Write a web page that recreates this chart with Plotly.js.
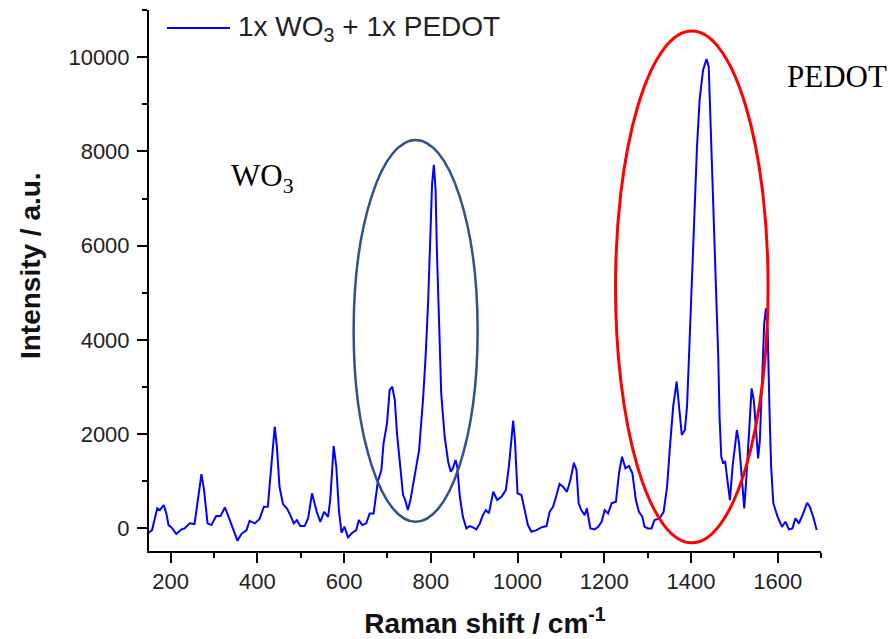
<!DOCTYPE html>
<html>
<head>
<meta charset="utf-8">
<script src="https://cdn.plot.ly/plotly-3.0.1.min.js"></script>
<style>html,body{margin:0;padding:0;background:#fff;}#chart{width:894px;height:639px;}</style>
</head>
<body>
<div id="chart"></div>
<script>
// Raman shift (cm^-1)
const ramanShift = [149,157,169,175,184,190,195,202,213,225,232,244,255,263,271,277,285,294,305,315,325,332,344,354,363,375,382,394,405,415,424,432,440,445,451,459,468,476,484,491,499,509,517,526,532,537,545,554,563,568,576,582,588,594,601,609,619,628,634,642,651,659,668,672,678,686,691,699,705,711,717,722,730,736,741,747,753,763,773,782,788,794,799,803,807,811,814,819,824,832,840,846,851,857,861,867,874,882,890,897,905,913,920,927,934,944,953,963,973,980,986,990,994,1000,1009,1017,1024,1032,1044,1055,1067,1074,1082,1090,1097,1105,1114,1122,1130,1136,1141,1147,1155,1160,1168,1178,1186,1194,1201,1209,1217,1227,1234,1241,1249,1257,1265,1273,1280,1288,1293,1301,1309,1316,1328,1337,1345,1351,1359,1367,1373,1379,1386,1391,1397,1403,1409,1414,1420,1428,1436,1441,1446,1452,1459,1463,1466,1470,1474,1479,1485,1490,1496,1502,1506,1511,1518,1523,1528,1535,1540,1545,1550,1555,1559,1564,1569,1573,1577,1581,1585,1590,1600,1610,1618,1626,1634,1641,1649,1659,1668,1674,1682,1690];
// Intensity (a.u.)
const intensity = [-93,-36,425,389,495,318,70,21,-121,-21,0,106,91,671,1153,813,106,70,261,261,446,282,0,-260,-121,-36,161,106,200,459,459,1238,2157,1733,883,516,425,282,106,176,49,49,212,743,531,352,140,352,246,601,1747,1308,389,-93,34,-191,-93,-36,176,70,106,318,318,620,1000,1238,1805,2229,2936,3006,2724,2017,1238,707,601,389,601,1096,1662,2724,3643,4847,6263,7325,7713,7183,5910,4140,2866,1945,1414,1202,1274,1450,1308,671,246,0,49,21,-21,100,282,389,318,777,601,671,813,1308,2017,2285,1875,743,707,389,70,-72,-36,21,49,352,459,707,941,883,777,1025,1393,1238,531,389,282,425,0,-21,34,140,389,318,531,565,1168,1520,1274,1323,1168,601,352,246,34,0,0,176,212,352,883,1662,2582,3113,2582,1981,2087,2582,3998,5414,6828,8102,9093,9730,9958,9800,8400,6800,5060,3643,2370,1520,1393,1414,955,601,1308,1839,2087,1805,1025,425,1096,2370,2972,2724,2087,1486,1875,3291,4352,4671,4210,2582,1308,531,246,34,140,-21,0,212,106,318,544,459,246,-36];

const seriesName = "1x WO<sub>3</sub> + 1x PEDOT";
const xTitle = "<b>Raman shift / cm<sup>-1</sup></b>";
const yTitle = "<b>Intensity / a.u.</b>";
const labelWO3 = "WO<sub>3</sub>";
const labelPEDOT = "PEDOT";

const tickFont = {family: "Liberation Sans, Arial, sans-serif", size: 22, color: "#222"};
const titleFont = {family: "Liberation Sans, Arial, sans-serif", size: 28, color: "#111"};

const trace = {
  x: ramanShift, y: intensity, type: "scatter", mode: "lines",
  name: seriesName, line: {color: "#0000ff", width: 2}, showlegend: false
};

const layout = {
  width: 894, height: 639,
  margin: {l: 149, r: 73, t: 10, b: 88},
  paper_bgcolor: "#fff", plot_bgcolor: "#fff",
  showlegend: false,
  xaxis: {
    range: [150, 1700], showgrid: false, zeroline: false,
    showline: true, linecolor: "#000", linewidth: 2,
    ticks: "outside", ticklen: 10, tickwidth: 2, tickcolor: "#000",
    tick0: 0, dtick: 200, tickfont: tickFont,
    minor: {dtick: 100, tick0: 0, ticks: "outside", ticklen: 5, tickwidth: 2, tickcolor: "#000", showgrid: false},
    title: {text: xTitle, font: titleFont, standoff: 21}
  },
  yaxis: {
    range: [-480, 11000], showgrid: false, zeroline: false,
    showline: true, linecolor: "#000", linewidth: 2,
    ticks: "outside", ticklen: 10, tickwidth: 2, tickcolor: "#000",
    tick0: 0, dtick: 2000, tickformat: "d", ticklabelstandoff: 3, tickfont: tickFont,
    minor: {dtick: 1000, tick0: 0, ticks: "outside", ticklen: 5, tickwidth: 2, tickcolor: "#000", showgrid: false}
  },
  shapes: [
    {type: "circle", xref: "x", yref: "y", x0: 622, x1: 908, y0: 140, y1: 8244,
     line: {color: "#2F528F", width: 2.5}, fillcolor: "rgba(0,0,0,0)"},
    {type: "circle", xref: "x", yref: "y", x0: 1226, x1: 1578, y0: -306, y1: 10552,
     line: {color: "#ff0000", width: 3}, fillcolor: "rgba(0,0,0,0)"},
    {type: "line", xref: "paper", yref: "paper", x0: 0.0268, x1: 0.1205, y0: 0.9667, y1: 0.9667,
     line: {color: "#0000ff", width: 2}}
  ],
  annotations: [
    {xref: "paper", yref: "paper", x: 0.1295, y: 0.9667, xanchor: "left", yanchor: "middle",
     text: seriesName, showarrow: false, font: {family: "Liberation Sans, Arial, sans-serif", size: 28, color: "#222"}},
    {xref: "paper", yref: "paper", x: -0.177, y: 0.5268, xanchor: "center", yanchor: "middle", textangle: -90,
     text: yTitle, showarrow: false, font: titleFont},
    {xref: "x", yref: "y", x: 334, y: 7437, xanchor: "left", yanchor: "middle",
     text: labelWO3, showarrow: false, font: {family: "Liberation Serif, Times New Roman, serif", size: 31, color: "#000"}},
    {xref: "x", yref: "y", x: 1618, y: 9582, xanchor: "left", yanchor: "middle",
     text: labelPEDOT, showarrow: false, font: {family: "Liberation Serif, Times New Roman, serif", size: 31, color: "#000"}}
  ]
};

Plotly.newPlot("chart", [trace], layout, {displayModeBar: false, staticPlot: true});
</script>
</body>
</html>
